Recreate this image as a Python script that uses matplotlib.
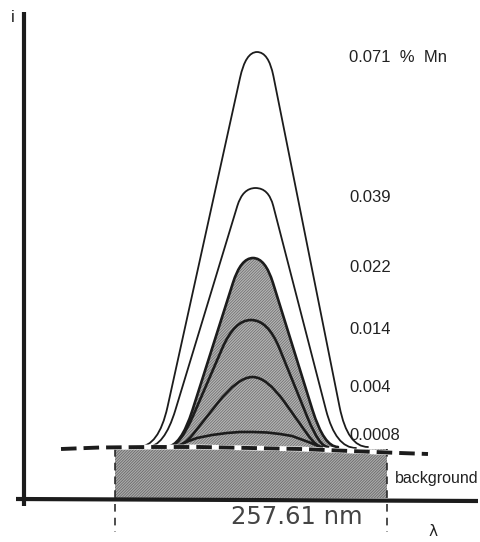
import matplotlib
matplotlib.use("Agg")
import matplotlib.pyplot as plt
from matplotlib.path import Path
from matplotlib.patches import PathPatch

plt.rcParams['hatch.linewidth'] = 0.5

# Peak outlines (wavelength position, intensity; arbitrary units).
# Each list: foot start, foot corner, lower side, upper side, top corner, top,
#            top corner, upper side, lower side, foot corner, foot end.
x_071 = [138, 158.6, 167.5, 240.0, 245.6, 257.0, 268.6, 273.4, 339.6, 347.6, 368]
i_071 = [51, 51, 91, 420, 446, 446, 446, 422, 91, 51, 51]

x_039 = [147, 164.2, 175.4, 237.3, 242.7, 255.5, 268.7, 273.3, 326.0, 335.8, 356]
i_039 = [51, 51, 88, 292, 310, 310, 310, 292, 88, 50, 50]

x_022 = [166, 180.8, 192.5, 232.9, 240.8, 253.0, 265.3, 273.0, 312.5, 324.0, 338]
i_022 = [51, 51, 88, 215, 240, 240, 240, 215, 88, 51, 51]

x_014 = [168, 179.6, 193.0, 222.4, 234.5, 251.0, 267.9, 279.3, 307.7, 319.5, 328]
i_014 = [51, 51, 82, 150, 178, 178, 178, 150, 80, 51, 51]

x_004 = [174, 182.9, 193.2, 217.7, 238.2, 252.5, 266.9, 285.2, 307.2, 316.4, 322]
i_004 = [51, 51, 64, 95, 121, 121, 121, 95, 64, 51, 51]

x_0008 = [178, 186, 197, 212, 227, 240, 253, 267, 280, 292, 303, 311, 318]
i_0008 = [52, 56, 60, 63, 65, 66, 66, 65.5, 64, 62, 58, 55, 52]

# background level (dashed)
x_bg = [61, 100, 150, 200, 250, 300, 350, 400, 428]
i_bg = [49, 50.5, 51, 51, 50, 49, 47, 45, 44]

# integration window and background level
win_left, win_right = 115, 387
bg_level = 49

labels = ["0.071  %  Mn", "0.039", "0.022", "0.014", "0.004", "0.0008"]
label_i = [440, 300, 230, 168, 110, 63]

LINE = '#1c1c1c'
CODES = [Path.MOVETO, Path.CURVE3, Path.CURVE3, Path.LINETO, Path.CURVE3, Path.CURVE3,
         Path.CURVE3, Path.CURVE3, Path.LINETO, Path.CURVE3, Path.CURVE3]


def peak_path(xs, ys):
    return Path(list(zip(xs, ys)), CODES)


fig = plt.figure(figsize=(4.81, 5.42), dpi=100)
ax = fig.add_axes([0, 0, 1, 1])
ax.set_xlim(0, 481)
ax.set_ylim(-44, 498)
ax.axis('off')

HATCH = '/' * 12
# background band
ax.fill([win_left, win_right, win_right, win_left], [0, 0, bg_level, bg_level],
        facecolor='#aaaaaa', hatch=HATCH, edgecolor='#626262', linewidth=0, zorder=1)

# shaded area under 0.022 peak
ax.add_patch(PathPatch(peak_path(x_022, i_022), facecolor='#b4b4b4', hatch=HATCH,
                       edgecolor='#6a6a6a', linewidth=0, zorder=1))

# integration window borders
for xv in (win_left, win_right):
    ax.plot([xv, xv], [bg_level, -34], color=LINE, lw=1.1, ls=(0, (5, 4)), zorder=3)

# peaks
for xs, ys, lw in [(x_071, i_071, 1.3), (x_039, i_039, 1.3), (x_022, i_022, 1.9),
                   (x_014, i_014, 1.9), (x_004, i_004, 1.9)]:
    ax.add_patch(PathPatch(peak_path(xs, ys), facecolor='none', edgecolor=LINE,
                           linewidth=lw, zorder=4, joinstyle='round', capstyle='round'))
ax.plot(x_0008, i_0008, color=LINE, lw=1.9, zorder=4, solid_joinstyle='round',
        solid_capstyle='round')

# background level dashed line
ax.plot(x_bg, i_bg, color='white', lw=3.5, zorder=5)
ax.plot(x_bg, i_bg, color=LINE, lw=2.8, ls=(0, (4, 1.8)), zorder=6)

# axes
ax.plot([24, 24], [-8, 486], color=LINE, lw=3, solid_capstyle='butt', zorder=7)
ax.plot([16, 478], [-1, -3], color=LINE, lw=3, solid_capstyle='butt', zorder=7)

# labels
for lab, yv in zip(labels, label_i):
    ax.text(349, yv, lab, fontsize=12, family='Liberation Sans', color='#222222',
            va='center', ha='left')
ax.text(395, 20, "background", fontsize=11.5, family='Liberation Sans', color='#222222',
        va='center', ha='left')
ax.text(13, 480, "i", fontsize=12, family='Liberation Sans', color='#222222',
        va='center', ha='center')
ax.text(433, -33, "λ", fontsize=11, family='DejaVu Sans', color='#222222',
        va='center', ha='center')
ax.text(297, -19, "257.61 nm", fontsize=17.5, family='DejaVu Sans', color='#444444',
        va='center', ha='center')

fig.savefig("out.png", dpi=100)
